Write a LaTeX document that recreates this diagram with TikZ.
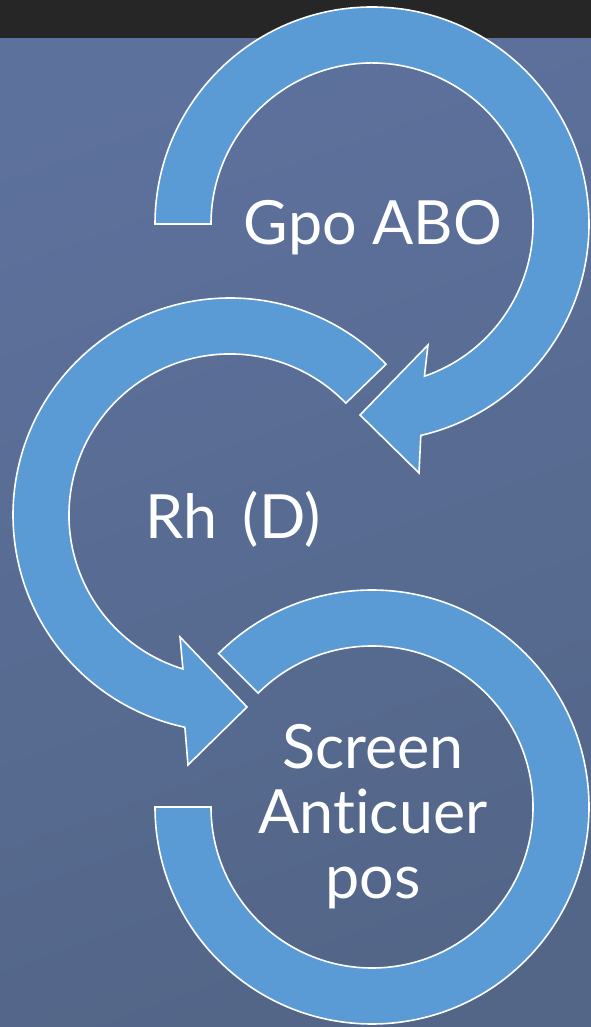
\documentclass[tikz,border=0pt]{standalone}
\usepackage{fontspec}
\setmainfont{Lato}[Ligatures={NoCommon,NoRare}]
\definecolor{arrowblue}{HTML}{5B9BD5}
\definecolor{bgtop}{HTML}{5D719D}
\definecolor{bgbot}{HTML}{536688}
\definecolor{barcol}{HTML}{262626}
\begin{document}
\begin{tikzpicture}[x=1pt,y=1pt,
  ringarrow/.style={fill=arrowblue,draw=white,line width=1.6pt,line join=miter},
  label/.style={text=white,font=\fontsize{61}{65}\selectfont,inner sep=0pt}]
\useasboundingbox (0,0) rectangle (591,1027);
\shade[top color=bgtop,bottom color=bgbot,shading angle=20] (0,0) rectangle (591,1027);
\fill[barcol] (0,989) rectangle (591,1027);
% circle 1 (top)
\draw[ringarrow] (155,803) arc[start angle=180,end angle=-77,radius=217]
  -- (419,554) -- (360,612) -- (428,682)
  -- ([shift={(372,803)}]-71:161) arc[start angle=-71,end angle=180,radius=161] -- cycle;
% circle 2 (middle)
\draw[ringarrow] ([shift={(230,512)}]44:217) arc[start angle=44,end angle=258,radius=217]
  -- (188,262) -- (247,320) -- (180,390)
  -- ([shift={(230,512)}]253:161) arc[start angle=253,end angle=44,radius=161] -- cycle;
% circle 3 (bottom)
\draw[ringarrow] ([shift={(372,220)}]135:217) arc[start angle=135,end angle=-180,radius=217]
  -- (211,220) arc[start angle=-180,end angle=135,radius=161] -- cycle;
\node[label,anchor=base] (gpo) at (373,782) {Gpo ABO};
\node[label,anchor=base] (rh) at (233,488) {Rh \,(D)};
\node[label,anchor=center,align=center] (screen) at (373,210) {Screen\\Anticuer\\pos};
\end{tikzpicture}
\end{document}
